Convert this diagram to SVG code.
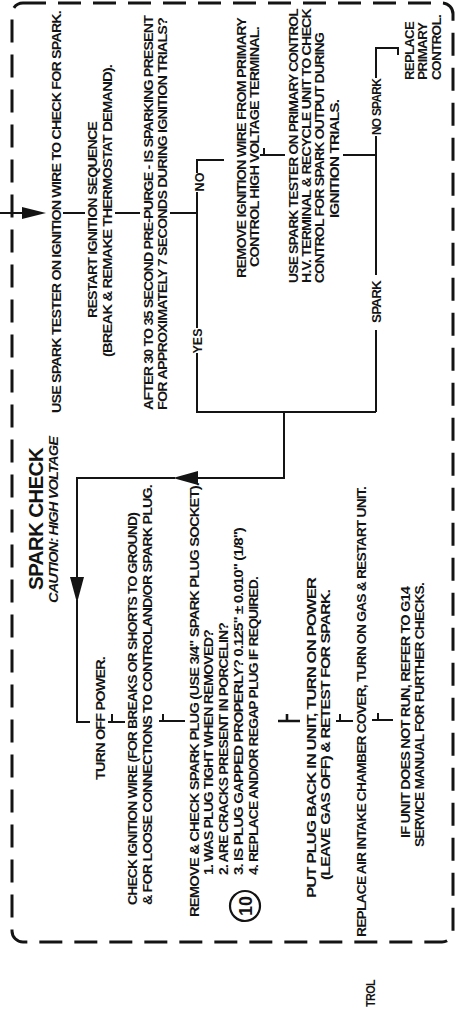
<svg xmlns="http://www.w3.org/2000/svg" width="457" height="1014" viewBox="0 0 457 1014">
<style>
.t{font-family:"Liberation Sans",Arial,sans-serif;font-size:13.5px;font-weight:bold;fill:#141414;letter-spacing:-0.8px}
.z{letter-spacing:0}
.lbl{font-size:12.5px}
.ttl{font-size:21px}
.cau{font-size:12.5px;font-style:italic}
.c{fill:none;stroke:#141414;stroke-width:2}
.ah{fill:#141414}
.border{fill:none;stroke:#141414;stroke-width:3;stroke-dasharray:23 12}
</style>
<rect width="457" height="1014" fill="#ffffff"/>
<rect class="border" x="12" y="3" width="441" height="939" rx="11"/>

<g id="connectors">
  <path class="c" d="M0,213 H26"/>
  <polygon class="ah" points="46,213 22,207 22,219"/>
  <path class="c" d="M63,213 H85 M115,213 H140 M170,213 H197"/>
  <path class="c" d="M197,173 V160 H224 M197,192 V328 M197,353 V412 H376"/>
  <path class="c" d="M260,155 H285 M264,148 V155"/>
  <path class="c" d="M343,155 H376 M376,412 V330 M376,275 V136 M376,78 V48 H398 V55"/>
  <path class="c" d="M284,412 V478 H195 M175,478 H77 V580 M77,600 V722 H90"/>
  <polygon class="ah" points="173,478 198,471 198,485"/>
  <polygon class="ah" points="77,603 70,577 84,577"/>
  <path class="c" d="M108,722 H125 M112,714 V722"/>
  <path class="c" d="M159,721 H185 M163,714 V721"/>
  <path class="c" d="M278,721 H300 M287,714 V721" style="stroke-width:2.6"/>
  <path class="c" d="M336,721 H353 M340,714 V721"/>
  <path class="c" d="M372,720 H393 M378,713 V720"/>
</g>

<g id="label-no"><text class="t lbl z" text-anchor="middle" transform="translate(203.5,182) rotate(-90)">NO</text></g>
<g id="label-yes"><text class="t lbl z" text-anchor="middle" transform="translate(202,341) rotate(-90)">YES</text></g>
<g id="label-nospark"><text class="t lbl" text-anchor="middle" transform="translate(381,107) rotate(-90)" textLength="56" lengthAdjust="spacingAndGlyphs">NO SPARK</text></g>
<g id="label-spark"><text class="t lbl" text-anchor="middle" transform="translate(381,302) rotate(-90)" textLength="42" lengthAdjust="spacingAndGlyphs">SPARK</text></g>

<g id="use-spark-tester">
  <text class="t" transform="translate(61,413) rotate(-90)" textLength="402" lengthAdjust="spacingAndGlyphs">USE SPARK TESTER ON IGNITION WIRE TO CHECK FOR SPARK.</text>
</g>

<g id="restart">
  <text class="t" transform="translate(97,318) rotate(-90)" textLength="196" lengthAdjust="spacingAndGlyphs">RESTART IGNITION SEQUENCE</text>
  <text class="t" transform="translate(112,357) rotate(-90)" textLength="292" lengthAdjust="spacingAndGlyphs">(BREAK &amp; REMAKE THERMOSTAT DEMAND).</text>
</g>

<g id="after-prepurge">
  <text class="t" transform="translate(153,410) rotate(-90)" textLength="394" lengthAdjust="spacingAndGlyphs">AFTER 30 TO 35 SECOND PRE-PURGE - IS SPARKING PRESENT</text>
  <text class="t" transform="translate(167,410) rotate(-90)" textLength="392" lengthAdjust="spacingAndGlyphs">FOR APPROXIMATELY 7 SECONDS DURING IGNITION TRIALS?</text>
</g>

<g id="remove-ignition-wire">
  <text class="t" transform="translate(246,278) rotate(-90)" textLength="260" lengthAdjust="spacingAndGlyphs">REMOVE IGNITION WIRE FROM PRIMARY</text>
  <text class="t" transform="translate(259,267) rotate(-90)" textLength="240" lengthAdjust="spacingAndGlyphs">CONTROL HIGH VOLTAGE TERMINAL.</text>
</g>

<g id="use-spark-tester-primary">
  <text class="t" transform="translate(298,283) rotate(-90)" textLength="274" lengthAdjust="spacingAndGlyphs">USE SPARK TESTER ON PRIMARY CONTROL</text>
  <text class="t" transform="translate(311,283) rotate(-90)" textLength="274" lengthAdjust="spacingAndGlyphs">H.V. TERMINAL &amp; RECYCLE UNIT TO CHECK</text>
  <text class="t" transform="translate(324,283) rotate(-90)" textLength="250" lengthAdjust="spacingAndGlyphs">CONTROL FOR SPARK OUTPUT DURING</text>
  <text class="t" transform="translate(339,218) rotate(-90)" textLength="118" lengthAdjust="spacingAndGlyphs">IGNITION TRIALS.</text>
</g>

<g id="replace-primary-control">
  <text class="t" transform="translate(414,80) rotate(-90)" textLength="58" lengthAdjust="spacingAndGlyphs">REPLACE</text>
  <text class="t" transform="translate(427,80) rotate(-90)" textLength="57" lengthAdjust="spacingAndGlyphs">PRIMARY</text>
  <text class="t" transform="translate(441,80) rotate(-90)" textLength="65" lengthAdjust="spacingAndGlyphs">CONTROL.</text>
</g>

<g id="title">
  <text class="t ttl" transform="translate(43,590) rotate(-90)" textLength="142" lengthAdjust="spacingAndGlyphs">SPARK CHECK</text>
  <text class="t cau" transform="translate(58,603) rotate(-90)" textLength="166" lengthAdjust="spacingAndGlyphs">CAUTION: HIGH VOLTAGE</text>
</g>

<g id="turn-off-power">
  <text class="t" transform="translate(105,780) rotate(-90)" textLength="123" lengthAdjust="spacingAndGlyphs">TURN OFF POWER.</text>
</g>

<g id="check-ignition-wire">
  <text class="t" transform="translate(137,905) rotate(-90)" textLength="392" lengthAdjust="spacingAndGlyphs">CHECK IGNITION WIRE (FOR BREAKS OR SHORTS TO GROUND)</text>
  <text class="t" transform="translate(152,905) rotate(-90)" textLength="420" lengthAdjust="spacingAndGlyphs">&amp; FOR LOOSE CONNECTIONS TO CONTROLAND/OR SPARK PLUG.</text>
</g>

<g id="remove-check-plug">
  <text class="t" transform="translate(199,917) rotate(-90)" textLength="434" lengthAdjust="spacingAndGlyphs">REMOVE &amp; CHECK SPARK PLUG (USE 3/4" SPARK PLUG SOCKET).</text>
  <text class="t" transform="translate(213,875) rotate(-90)" textLength="245" lengthAdjust="spacingAndGlyphs">1. WAS PLUG TIGHT WHEN REMOVED?</text>
  <text class="t" transform="translate(228,875) rotate(-90)" textLength="252" lengthAdjust="spacingAndGlyphs">2. ARE CRACKS PRESENT IN PORCELIN?</text>
  <text class="t" transform="translate(243,875) rotate(-90)" textLength="347" lengthAdjust="spacingAndGlyphs">3. IS PLUG GAPPED PROPERLY? 0.125"  ± 0.010" (1/8")</text>
  <text class="t" transform="translate(258,875) rotate(-90)" textLength="298" lengthAdjust="spacingAndGlyphs">4. REPLACE AND/OR REGAP PLUG IF REQUIRED.</text>
</g>

<g id="step-10">
  <circle cx="245" cy="906" r="15" fill="none" stroke="#141414" stroke-width="2.2"/>
  <text class="t z" style="font-size:18px" text-anchor="middle" transform="translate(251.5,906) rotate(-90)">10</text>
</g>

<g id="put-plug-back">
  <text class="t" transform="translate(316,898) rotate(-90)" textLength="320" lengthAdjust="spacingAndGlyphs">PUT PLUG BACK IN UNIT, TURN ON POWER</text>
  <text class="t" transform="translate(330,880) rotate(-90)" textLength="290" lengthAdjust="spacingAndGlyphs">(LEAVE GAS OFF) &amp; RETEST FOR SPARK.</text>
</g>

<g id="replace-cover">
  <text class="t" transform="translate(366,937) rotate(-90)" textLength="450" lengthAdjust="spacingAndGlyphs">REPLACE AIR INTAKE CHAMBER COVER, TURN ON GAS &amp; RESTART UNIT.</text>
</g>

<g id="if-unit-does-not-run">
  <text class="t" transform="translate(410,838) rotate(-90)" textLength="251" lengthAdjust="spacingAndGlyphs">IF UNIT DOES NOT RUN, REFER TO G14</text>
  <text class="t" transform="translate(424,847) rotate(-90)" textLength="264" lengthAdjust="spacingAndGlyphs">SERVICE MANUAL FOR FURTHER CHECKS.</text>
</g>

<g id="fragment-trol">
  <text class="t" transform="translate(375,1007) rotate(-90)" textLength="27" lengthAdjust="spacingAndGlyphs">TROL</text>
</g>
</svg>
